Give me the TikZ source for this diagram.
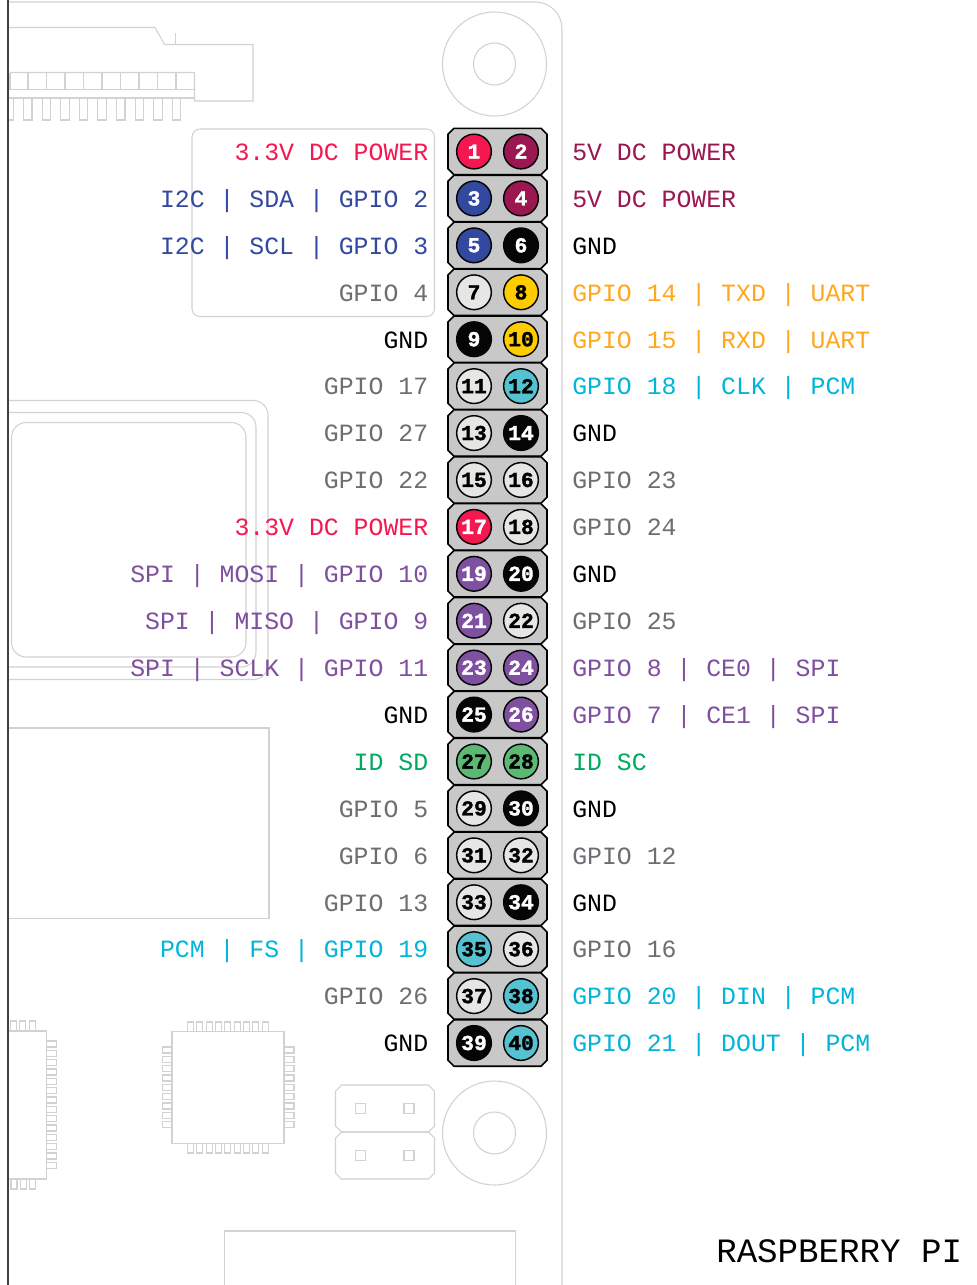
\documentclass[tikz,border=0pt]{standalone}
\usepackage{fontspec}
\setmainfont{Liberation Mono}
\newfontfamily\numfont[FakeBold=1.6]{Liberation Mono Bold}
\definecolor{cRed}{HTML}{F5174F}
\definecolor{cMaroon}{HTML}{9A1750}
\definecolor{cBlue}{HTML}{33499F}
\definecolor{cOrange}{HTML}{FFA81E}
\definecolor{cYellow}{HTML}{FFCC00}
\definecolor{cCyan}{HTML}{00B5D8}
\definecolor{cTeal}{HTML}{55C2D2}
\definecolor{cPurple}{HTML}{7F4FA0}
\definecolor{cGreenT}{HTML}{00A960}
\definecolor{cGreen}{HTML}{5CB974}
\definecolor{cGray}{HTML}{6D6E71}
\definecolor{cLight}{HTML}{E6E6E4}
\definecolor{cBox}{HTML}{C8C8C8}
\definecolor{cLine}{HTML}{D2D2D2}
\definecolor{cBlack}{HTML}{050505}
\tikzset{
  x=0.75pt,y=-0.75pt,
  faint/.style={draw=cLine,line width=0.8pt},
  rowbox/.style={draw=black,fill=cBox,line width=1.2pt},
  pinnode/.style={circle,draw=cBlack,line width=1.1pt,minimum size=26pt,inner sep=0pt,font=\numfont\fontsize{16}{16}\selectfont},
  lefttext/.style={anchor=base east,inner sep=0pt,font=\fontsize{18.62}{20}\selectfont},
  righttext/.style={anchor=base west,inner sep=0pt,font=\fontsize{18.62}{20}\selectfont},
  titletext/.style={anchor=base west,inner sep=0pt,font=\fontsize{25.6}{28}\selectfont},
}
% centre x, centre y, half width, half height, style
\newcommand{\chamferbox}[5]{%
  \draw[#5] ({#1-#3+6},{#2-#4}) -- ({#1+#3-6},{#2-#4}) -- ({#1+#3},{#2-#4+6}) -- ({#1+#3},{#2+#4-6}) -- ({#1+#3-6},{#2+#4}) -- ({#1-#3+6},{#2+#4}) -- ({#1-#3},{#2+#4-6}) -- ({#1-#3},{#2-#4+6}) -- cycle;
}
\newcommand{\pinrow}[5]{% row, left fill, left text, right fill, right text
  \pgfmathtruncatemacro{\pinA}{2*#1-1}\pgfmathtruncatemacro{\pinB}{2*#1}
  \pgfmathsetmacro{\rowy}{104.6+46.92*#1}
  \chamferbox{497.5}{\rowy}{49.5}{23.2}{rowbox}
  \node[pinnode,fill=#2,text=#3] (pin\pinA) at (474,\rowy) {\pinA};
  \node[pinnode,fill=#4,text=#5] (pin\pinB) at (521,\rowy) {\pinB};
}
\newcommand{\leftlab}[3]{\node[lefttext,text=#2] (ll#1) at (428.5,{113.4+46.92*#1}) {#3};}
\newcommand{\rightlab}[3]{\node[righttext,text=#2] (rl#1) at (572,{113.4+46.92*#1}) {#3};}
\begin{document}
\begin{tikzpicture}
\useasboundingbox (0,0) rectangle (976,1285);
\fill[white] (0,0) rectangle (976,1285);
% board outline
\draw[faint,rounded corners=20pt] (8,2) -- (562,2) -- (562,1286);
% mounting holes
\foreach \yy in {64,1133}{
  \draw[faint] (494.5,\yy) circle[radius=52];
  \draw[faint] (494.5,\yy) circle[radius=21];
}
% top connector
\draw[faint] (8,27.5) -- (155,27.5) -- (164.5,44.5) -- (253,44.5) -- (253,101) -- (194.5,101) -- (194.5,72.5) -- (10,72.5);
\draw[faint] (175.5,33) -- (175.5,44.5);
\draw[faint] (8,89.5) -- (194.5,89.5);
\draw[faint] (8,98) -- (194.5,98);
\foreach \xx in {10,28,46.5,65,83.5,102,120.5,139,157.5,176}{\draw[faint] (\xx,72.5) -- (\xx,89.5);}
\draw[faint] (8,98) -- (13.5,98) -- (13.5,120) -- (8,120);
\foreach \i in {0,...,8}{\draw[faint] ({23.5+18.6*\i},98) rectangle ({32+18.6*\i},120);}
% rounded box
\draw[faint,rounded corners=6pt] (192,129) rectangle (434.5,316.5);
% heat sink
\draw[faint,rounded corners=11pt] (8,400.5) -- (268,400.5) -- (268,679.5) -- (8,679.5);
\draw[faint,rounded corners=11pt] (8,412.5) -- (256,412.5) -- (256,667) -- (8,667);
\draw[faint,rounded corners=11pt] (11.5,422.5) rectangle (246,657);
% rectangles
\draw[faint] (8,728) -- (269,728) -- (269,918.5) -- (8,918.5);
\draw[faint] (224.5,1286) -- (224.5,1231) -- (515.5,1231) -- (515.5,1286);
% left chip
\draw[faint] (8,1031) -- (46.5,1031) -- (46.5,1179) -- (8,1179);
\foreach \i in {0,1,2}{
  \draw[faint] ({10.5+9.33*\i},1021) rectangle ({16.5+9.33*\i},1031);
  \draw[faint] ({11+9.33*\i},1179) rectangle ({17+9.33*\i},1189);
}
\foreach \i in {0,...,13}{\draw[faint] (46.5,{1041+9.33*\i}) rectangle (56.5,{1047+9.33*\i});}
% middle chip
\draw[faint] (172,1031.5) rectangle (284,1143.5);
\foreach \i in {0,...,8}{
  \draw[faint] ({187.5+9.33*\i},1022) rectangle ({193.5+9.33*\i},1031.5);
  \draw[faint] ({187.5+9.33*\i},1143.5) rectangle ({193.5+9.33*\i},1153);
  \draw[faint] (162.5,{1047+9.33*\i}) rectangle (172,{1053+9.33*\i});
  \draw[faint] (284,{1047+9.33*\i}) rectangle (294,{1053+9.33*\i});
}
% small headers
\chamferbox{385}{1108.5}{49.5}{23.5}{faint}
\chamferbox{385}{1155.5}{49.5}{23.5}{faint}
\foreach \xx in {360.5,409}{\foreach \yy in {1108.5,1155.5}{
  \draw[faint] ({\xx-5},{\yy-5}) rectangle ({\xx+5},{\yy+5});
}}
% left rail
\draw[draw=black!75,line width=1.5pt] (8,0) -- (8,1285);
% pin rows
\pinrow{1}{cRed}{white}{cMaroon}{white}
\pinrow{2}{cBlue}{white}{cMaroon}{white}
\pinrow{3}{cBlue}{white}{cBlack}{white}
\pinrow{4}{cLight}{black}{cYellow}{black}
\pinrow{5}{cBlack}{white}{cYellow}{black}
\pinrow{6}{cLight}{black}{cTeal}{black}
\pinrow{7}{cLight}{black}{cBlack}{white}
\pinrow{8}{cLight}{black}{cLight}{black}
\pinrow{9}{cRed}{white}{cLight}{black}
\pinrow{10}{cPurple}{white}{cBlack}{white}
\pinrow{11}{cPurple}{white}{cLight}{black}
\pinrow{12}{cPurple}{white}{cPurple}{white}
\pinrow{13}{cBlack}{white}{cPurple}{white}
\pinrow{14}{cGreen}{black}{cGreen}{black}
\pinrow{15}{cLight}{black}{cBlack}{white}
\pinrow{16}{cLight}{black}{cLight}{black}
\pinrow{17}{cLight}{black}{cBlack}{white}
\pinrow{18}{cTeal}{black}{cLight}{black}
\pinrow{19}{cLight}{black}{cTeal}{black}
\pinrow{20}{cBlack}{white}{cTeal}{black}
% left labels
\leftlab{1}{cRed}{3.3V DC POWER}
\leftlab{2}{cBlue}{I2C | SDA | GPIO 2}
\leftlab{3}{cBlue}{I2C | SCL | GPIO 3}
\leftlab{4}{cGray}{GPIO 4}
\leftlab{5}{black}{GND}
\leftlab{6}{cGray}{GPIO 17}
\leftlab{7}{cGray}{GPIO 27}
\leftlab{8}{cGray}{GPIO 22}
\leftlab{9}{cRed}{3.3V DC POWER}
\leftlab{10}{cPurple}{SPI | MOSI | GPIO 10}
\leftlab{11}{cPurple}{SPI | MISO | GPIO 9}
\leftlab{12}{cPurple}{SPI | SCLK | GPIO 11}
\leftlab{13}{black}{GND}
\leftlab{14}{cGreenT}{ID SD}
\leftlab{15}{cGray}{GPIO 5}
\leftlab{16}{cGray}{GPIO 6}
\leftlab{17}{cGray}{GPIO 13}
\leftlab{18}{cCyan}{PCM | FS | GPIO 19}
\leftlab{19}{cGray}{GPIO 26}
\leftlab{20}{black}{GND}
% right labels
\rightlab{1}{cMaroon}{5V DC POWER}
\rightlab{2}{cMaroon}{5V DC POWER}
\rightlab{3}{black}{GND}
\rightlab{4}{cOrange}{GPIO 14 | TXD | UART}
\rightlab{5}{cOrange}{GPIO 15 | RXD | UART}
\rightlab{6}{cCyan}{GPIO 18 | CLK | PCM}
\rightlab{7}{black}{GND}
\rightlab{8}{cGray}{GPIO 23}
\rightlab{9}{cGray}{GPIO 24}
\rightlab{10}{black}{GND}
\rightlab{11}{cGray}{GPIO 25}
\rightlab{12}{cPurple}{GPIO 8 | CE0 | SPI}
\rightlab{13}{cPurple}{GPIO 7 | CE1 | SPI}
\rightlab{14}{cGreenT}{ID SC}
\rightlab{15}{black}{GND}
\rightlab{16}{cGray}{GPIO 12}
\rightlab{17}{black}{GND}
\rightlab{18}{cGray}{GPIO 16}
\rightlab{19}{cCyan}{GPIO 20 | DIN | PCM}
\rightlab{20}{cCyan}{GPIO 21 | DOUT | PCM}
\node[titletext] (title) at (716,1262) {RASPBERRY PI};
\end{tikzpicture}
\end{document}
